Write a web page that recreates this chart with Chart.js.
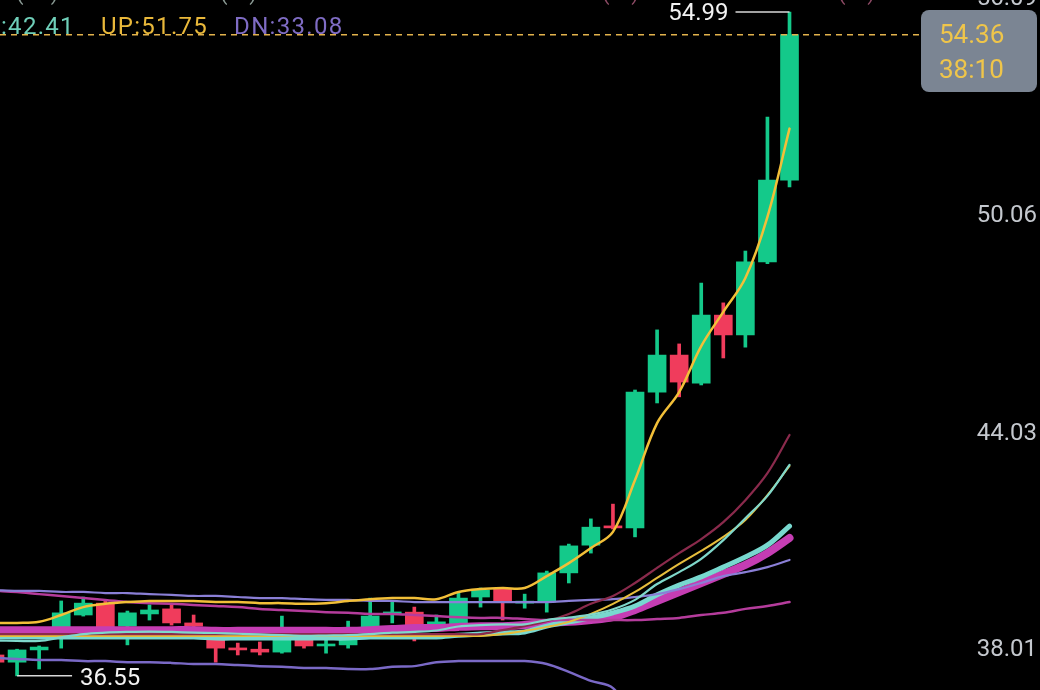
<!DOCTYPE html>
<html>
<head>
<meta charset="utf-8">
<script src="https://cdn.jsdelivr.net/npm/chart.js@4.4.1/dist/chart.umd.min.js"></script>
<style>
  html, body { margin: 0; padding: 0; background: #000; }
  #wrap { position: relative; width: 1040px; height: 690px; }
</style>
</head>
<body>
<div id="wrap"><canvas id="kline"></canvas></div>
<script>
// candles (oldest first, the first one is half cut by the left edge)
const opens  = [37.13, 36.93, 37.27, 37.88, 38.24, 38.57, 37.93, 38.27, 38.41, 38.02, 37.57, 37.32, 37.29, 37.21, 37.57, 37.38, 37.41, 37.88, 38.27, 38.32, 37.91, 37.96, 38.74, 38.96, 38.57, 38.60, 39.41, 40.18, 40.71, 40.66, 44.43, 45.46, 44.68, 46.57, 46.02, 48.05, 50.32];
const highs  = [37.21, 37.29, 37.38, 38.63, 38.74, 38.63, 38.35, 38.52, 38.52, 38.24, 37.60, 37.46, 37.49, 38.21, 37.60, 37.55, 38.07, 38.71, 38.60, 38.46, 38.24, 38.85, 38.99, 38.99, 38.82, 39.46, 40.21, 40.91, 41.32, 44.49, 46.16, 45.77, 47.46, 46.91, 48.35, 52.07, 54.99];
const lows   = [36.88, 36.55, 36.74, 37.32, 38.21, 37.88, 37.41, 38.10, 37.96, 37.91, 36.93, 37.13, 37.13, 37.18, 37.32, 37.18, 37.32, 37.85, 38.02, 37.52, 37.85, 37.93, 38.46, 38.10, 38.43, 38.32, 39.13, 39.96, 40.63, 40.41, 44.13, 44.30, 44.63, 45.38, 45.68, 48.00, 50.13];
const closes = [36.93, 37.27, 37.35, 38.30, 38.57, 37.91, 38.30, 38.38, 38.02, 37.93, 37.32, 37.27, 37.21, 37.57, 37.38, 37.41, 37.57, 38.21, 38.30, 37.88, 38.05, 38.71, 38.93, 38.60, 38.60, 39.41, 40.16, 40.68, 40.66, 44.43, 45.46, 44.71, 46.57, 46.02, 48.05, 50.32, 54.36];

// bollinger bands
const upBand  = [38.02, 38.02, 38.05, 38.24, 38.46, 38.55, 38.60, 38.63, 38.63, 38.63, 38.60, 38.60, 38.57, 38.57, 38.55, 38.57, 38.63, 38.68, 38.71, 38.71, 38.68, 38.88, 38.96, 38.99, 38.99, 39.32, 39.68, 40.10, 40.55, 41.99, 43.57, 44.43, 45.71, 46.66, 47.60, 49.30, 51.75];
const midBand = [37.53, 37.52, 37.52, 37.62, 37.71, 37.75, 37.77, 37.78, 37.77, 37.75, 37.74, 37.72, 37.70, 37.68, 37.66, 37.67, 37.68, 37.71, 37.75, 37.77, 37.81, 37.92, 37.96, 37.98, 37.98, 38.10, 38.17, 38.25, 38.40, 38.66, 39.10, 39.43, 39.80, 40.32, 40.93, 41.55, 42.41];
const dnBand  = [37.05, 37.02, 36.99, 36.99, 36.96, 36.96, 36.93, 36.93, 36.91, 36.88, 36.88, 36.85, 36.82, 36.80, 36.77, 36.77, 36.74, 36.74, 36.80, 36.82, 36.93, 36.96, 36.96, 36.96, 36.96, 36.88, 36.66, 36.41, 36.21, 35.33, 34.63, 34.43, 33.89, 33.98, 34.26, 33.80, 33.08];

// moving averages
const maroonLine   = [37.71, 37.71, 37.71, 37.71, 37.71, 37.71, 37.71, 37.71, 37.71, 37.71, 37.71, 37.71, 37.71, 37.71, 37.71, 37.71, 37.71, 37.71, 37.71, 37.71, 37.71, 37.71, 37.71, 37.82, 37.93, 38.07, 38.27, 38.55, 38.77, 39.13, 39.55, 39.96, 40.35, 40.82, 41.43, 42.18, 43.24];
const goldLine     = [37.66, 37.66, 37.66, 37.66, 37.66, 37.66, 37.66, 37.66, 37.66, 37.66, 37.66, 37.66, 37.66, 37.66, 37.66, 37.66, 37.66, 37.66, 37.66, 37.66, 37.66, 37.66, 37.66, 37.71, 37.80, 37.91, 38.05, 38.27, 38.55, 38.88, 39.27, 39.66, 40.02, 40.41, 40.88, 41.57, 42.38];
const aquaLine     = [37.63, 37.63, 37.63, 37.63, 37.63, 37.63, 37.63, 37.63, 37.63, 37.63, 37.60, 37.60, 37.60, 37.60, 37.60, 37.60, 37.60, 37.63, 37.63, 37.63, 37.63, 37.68, 37.71, 37.74, 37.77, 37.93, 38.05, 38.16, 38.30, 38.49, 38.80, 39.07, 39.30, 39.57, 39.85, 40.18, 40.71];
const magentaLine  = [37.82, 37.82, 37.82, 37.82, 37.82, 37.82, 37.82, 37.82, 37.82, 37.82, 37.80, 37.80, 37.80, 37.80, 37.80, 37.80, 37.80, 37.82, 37.85, 37.88, 37.88, 37.91, 37.93, 37.93, 37.96, 38.02, 38.05, 38.10, 38.18, 38.38, 38.63, 38.88, 39.13, 39.38, 39.63, 39.96, 40.38];
const lavenderLine = [38.93, 38.91, 38.91, 38.88, 38.88, 38.85, 38.85, 38.82, 38.80, 38.77, 38.77, 38.74, 38.71, 38.71, 38.68, 38.66, 38.66, 38.63, 38.63, 38.60, 38.60, 38.60, 38.60, 38.60, 38.60, 38.60, 38.63, 38.66, 38.68, 38.74, 38.82, 38.96, 39.13, 39.32, 39.43, 39.57, 39.77];
const pinkLine     = [38.91, 38.88, 38.82, 38.77, 38.71, 38.66, 38.60, 38.57, 38.55, 38.52, 38.49, 38.46, 38.41, 38.38, 38.35, 38.32, 38.30, 38.27, 38.27, 38.24, 38.21, 38.18, 38.16, 38.16, 38.13, 38.10, 38.10, 38.10, 38.10, 38.10, 38.13, 38.16, 38.24, 38.30, 38.41, 38.49, 38.60];

// right axis tick labels and the top legend
const tickValues = [56.09, 50.06, 44.03, 38.01];
const timerText = '38:10';
const legendItems = [
	{ text: ':42.41', color: '#6fcfb9' },
	{ text: 'UP:51.75', color: '#e9b83a' },
	{ text: 'DN:33.08', color: '#7f6cc4' }
];

const GREEN = '#14c98a';
const RED = '#f03c5c';
const FONT = 'Roboto, "DejaVu Sans", sans-serif';

const slots = opens.map((_, i) => i);
const candleColors = slots.map(i => closes[i] >= opens[i] ? GREEN : RED);
const toPoints = arr => arr.map((v, i) => ({ x: i, y: v }));

function lineSet(data, color, width) {
	return {
		type: 'line',
		data: toPoints(data),
		borderColor: color,
		borderWidth: width,
		pointRadius: 0,
		tension: 0.35,
		borderCapStyle: 'round',
		borderJoinStyle: 'round',
		fill: false
	};
}

// first dataset is drawn on top
const datasets = [
	lineSet(upBand, '#f2bf38', 2.5),
	lineSet(midBand, '#7fd8cb', 2.2),
	lineSet(maroonLine, '#8a2a4c', 2.2),
	lineSet(goldLine, '#e6bd3c', 2),
	lineSet(lavenderLine, '#8a7fd6', 2.2),
	lineSet(dnBand, '#7a69c6', 2.5),
	lineSet(pinkLine, '#b53c9c', 2.5),
	lineSet(aquaLine, '#78d8cf', 5),
	lineSet(magentaLine, '#c53db3', 8),
	{
		type: 'bar',
		data: slots.map(i => ({ x: i, y: [Math.min(opens[i], closes[i]), Math.max(opens[i], closes[i])] })),
		backgroundColor: candleColors,
		barThickness: 18,
		minBarLength: 2,
		grouped: false
	},
	{
		type: 'bar',
		data: slots.map(i => ({ x: i, y: [lows[i], highs[i]] })),
		backgroundColor: candleColors,
		barThickness: 3,
		grouped: false
	}
];

// overlays: last price line, price tag, extremes, axis labels, legend
const overlay = {
	id: 'overlay',
	afterDraw(chart) {
		const { ctx, scales: { x, y } } = chart;
		const last = closes.length - 1;
		const lastY = y.getPixelForValue(closes[last]);

		ctx.save();
		// partial text row cut off by the top edge
		ctx.font = '22px ' + FONT;
		ctx.textBaseline = 'alphabetic';
		ctx.fillStyle = '#8a9a94';
		ctx.fillText('(     )', 16, 0);
		ctx.fillText('(    )', 220, 0);
		ctx.fillStyle = '#8c4a64';
		ctx.fillText('(    )', 602, 0);
		ctx.fillText('(    )', 838, 0);

		// dashed last price line
		ctx.strokeStyle = '#e2b24c';
		ctx.lineWidth = 1.5;
		ctx.setLineDash([6, 5]);
		ctx.beginPath();
		ctx.moveTo(0, lastY);
		ctx.lineTo(921, lastY);
		ctx.stroke();
		ctx.setLineDash([]);

		// price / countdown tag
		ctx.fillStyle = '#7b8593';
		ctx.beginPath();
		ctx.roundRect(921, 10, 116, 82, 8);
		ctx.fill();
		ctx.fillStyle = '#efc54a';
		ctx.font = '26px ' + FONT;
		ctx.textAlign = 'left';
		ctx.textBaseline = 'middle';
		ctx.fillText(closes[last].toFixed(2), 939, 36);
		ctx.fillText(timerText, 939, 71);

		// highest high marker
		const hiIdx = highs.indexOf(Math.max(...highs));
		const hx = x.getPixelForValue(hiIdx);
		const hy = y.getPixelForValue(highs[hiIdx]);
		ctx.strokeStyle = '#d8d8d8';
		ctx.lineWidth = 1.5;
		ctx.beginPath();
		ctx.moveTo(hx, hy);
		ctx.lineTo(hx - 54, hy);
		ctx.stroke();
		ctx.fillStyle = '#f2f2f2';
		ctx.font = '24px ' + FONT;
		ctx.textAlign = 'right';
		ctx.fillText(highs[hiIdx].toFixed(2), hx - 61, hy + 2);

		// lowest low marker
		const loIdx = lows.indexOf(Math.min(...lows));
		const lx = x.getPixelForValue(loIdx);
		const ly = y.getPixelForValue(lows[loIdx]);
		ctx.beginPath();
		ctx.moveTo(lx, ly);
		ctx.lineTo(lx + 55, ly);
		ctx.stroke();
		ctx.textAlign = 'left';
		ctx.fillText(lows[loIdx].toFixed(2), lx + 63, ly + 3);

		// right axis labels, drawn under their level
		ctx.fillStyle = '#c4c8ce';
		ctx.font = '24px ' + FONT;
		ctx.textAlign = 'right';
		tickValues.forEach(v => {
			ctx.fillText(v.toFixed(2), 1037, y.getPixelForValue(v) + 27);
		});

		// bollinger legend
		ctx.textAlign = 'left';
		ctx.font = '24px ' + FONT;
		ctx.letterSpacing = '1.3px';
		let lx2 = 1;
		legendItems.forEach(item => {
			ctx.fillStyle = item.color;
			ctx.fillText(item.text, lx2, 28);
			lx2 += ctx.measureText(item.text).width + 26;
		});
		ctx.restore();
	}
};

const canvas = document.getElementById('kline');
canvas.width = 1040;
canvas.height = 690;

new Chart(canvas.getContext('2d'), {
	type: 'bar',
	data: { datasets },
	options: {
		responsive: false,
		animation: false,
		events: [],
		layout: { padding: 0 },
		plugins: { legend: { display: false }, tooltip: { enabled: false } },
		scales: {
			x: { type: 'linear', display: false, offset: false, min: 0.2266, max: 47.35 },
			y: { type: 'linear', display: false, min: 36.157, max: 55.323 }
		}
	},
	plugins: [overlay]
});
</script>
</body>
</html>
